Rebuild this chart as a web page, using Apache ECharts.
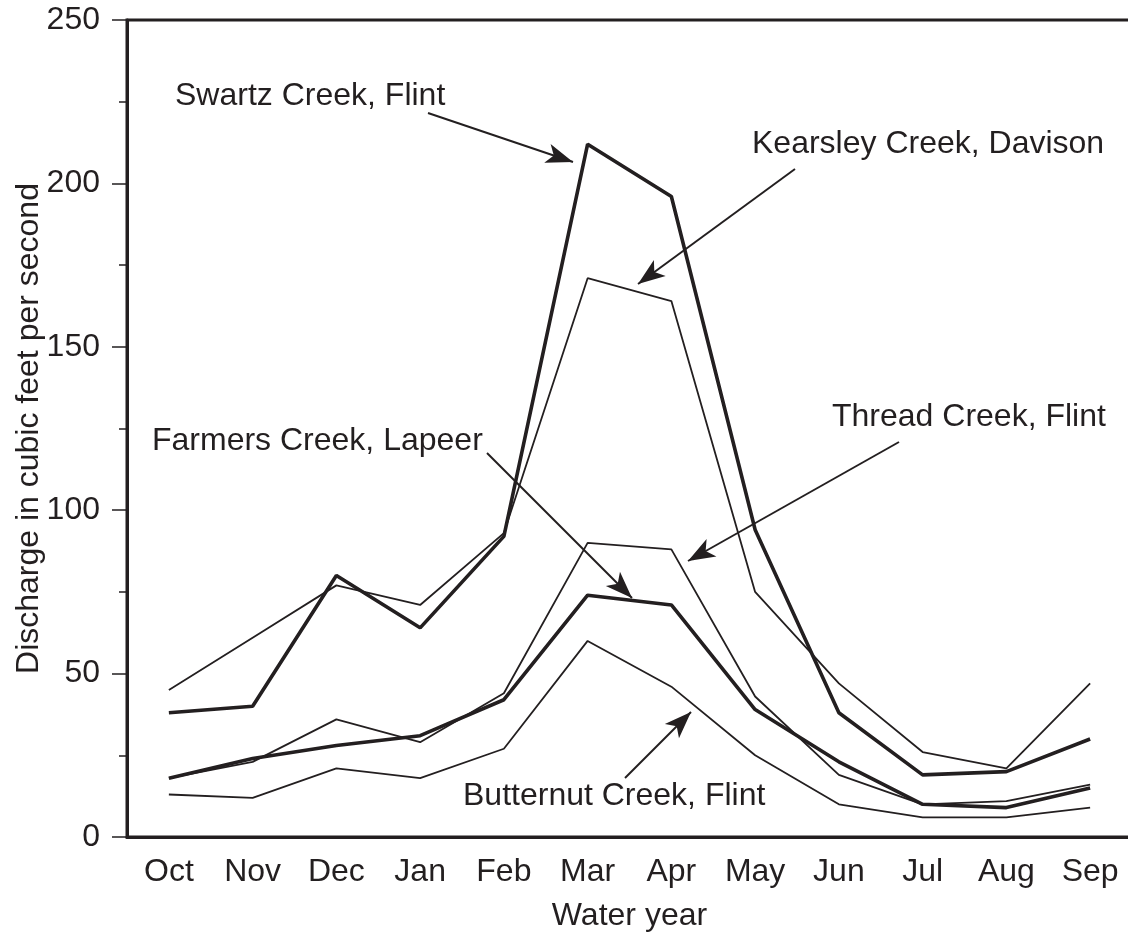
<!DOCTYPE html>
<html>
<head>
<meta charset="utf-8">
<script src="https://cdn.jsdelivr.net/npm/echarts@6/dist/echarts.min.js"></script>
<style>
  html, body { margin: 0; padding: 0; background: #fff; }
  #chart { width: 1128px; height: 946px; }
</style>
</head>
<body>
<div id="chart"></div>
<script>
  // months of the water year
  var months = ["Oct", "Nov", "Dec", "Jan", "Feb", "Mar", "Apr", "May", "Jun", "Jul", "Aug", "Sep"];
  // mean monthly discharge, cubic feet per second
  var swartz = [38, 40, 80, 64, 92, 212, 196, 94, 38, 19, 20, 30];
  var kearsley = [45, 61, 77, 71, 93, 171, 164, 75, 47, 26, 21, 47];
  var thread = [18, 23, 36, 29, 44, 90, 88, 43, 19, 10, 11, 16];
  var farmers = [18, 24, 28, 31, 42, 74, 71, 39, 23, 10, 9, 15];
  var butternut = [13, 12, 21, 18, 27, 60, 46, 25, 10, 6, 6, 9];

  var ink = "#231f20";
  var font = "Liberation Sans";
  var size = 32;

  var chart = echarts.init(document.getElementById("chart"));

  function line(name, data, width) {
    return {
      name: name,
      type: "line",
      data: data,
      symbol: "none",
      silent: true,
      lineStyle: { color: ink, width: width },
      z: width > 2 ? 3 : 2
    };
  }

  // label text, placed by hand like the original figure
  function note(text, x, y) {
    return {
      type: "text",
      left: x,
      top: y,
      style: { text: text, fill: ink, font: size + "px " + font }
    };
  }

  // arrows from the labels toward the curves
  var arrows = [
    [{ x: 428, y: 113 }, { x: 573, y: 162 }],
    [{ x: 795, y: 169 }, { x: 638, y: 284 }],
    [{ x: 487, y: 453 }, { x: 632, y: 598 }],
    [{ x: 899, y: 442 }, { x: 688, y: 561 }],
    [{ x: 625, y: 778 }, { x: 691, y: 712 }]
  ];

  var series = [
    line("Kearsley Creek, Davison", kearsley, 1.8),
    line("Thread Creek, Flint", thread, 1.8),
    line("Butternut Creek, Flint", butternut, 1.8),
    line("Farmers Creek, Lapeer", farmers, 3.6),
    line("Swartz Creek, Flint", swartz, 3.6)
  ];
  series[0].markLine = {
    silent: true,
    symbol: ["none", "arrow"],
    symbolSize: [15, 27],
    label: { show: false },
    lineStyle: { color: ink, width: 2, type: "solid" },
    data: arrows
  };

  var option = {
    backgroundColor: "#fff",
    animation: false,
    grid: {
      left: 127,
      top: 20,
      right: -4,
      bottom: 109,
      outerBoundsMode: "none",
      show: true,
      borderColor: ink,
      borderWidth: 3
    },
    xAxis: {
      type: "category",
      data: months,
      name: "Water year",
      nameLocation: "middle",
      nameGap: 63,
      nameTextStyle: { color: ink, fontSize: size, fontFamily: font },
      axisLine: { lineStyle: { color: ink, width: 3 } },
      axisTick: { alignWithLabel: true, length: 15, lineStyle: { color: ink, width: 1.5 } },
      axisLabel: { color: ink, fontSize: size, fontFamily: font, margin: 19 },
      splitLine: { show: false }
    },
    yAxis: {
      type: "value",
      min: 0,
      max: 250,
      interval: 50,
      name: "Discharge in cubic feet per second",
      nameLocation: "middle",
      nameGap: 82,
      nameMoveOverlap: false,
      nameTextStyle: { color: ink, fontSize: size, fontFamily: font },
      axisLine: { show: true, lineStyle: { color: ink, width: 3 } },
      axisTick: { show: true, length: 15, lineStyle: { color: ink, width: 1.5 } },
      minorTick: { show: true, splitNumber: 2, length: 8, lineStyle: { color: ink, width: 1.5 } },
      axisLabel: { color: ink, fontSize: size, fontFamily: font, margin: 27 },
      splitLine: { show: false }
    },
    graphic: [
      note("Swartz Creek, Flint", 175, 80),
      note("Kearsley Creek, Davison", 752, 128),
      note("Thread Creek, Flint", 832, 401),
      note("Farmers Creek, Lapeer", 152, 425),
      note("Butternut Creek, Flint", 463, 780)
    ],
    series: series
  };

  chart.setOption(option);
  window.addEventListener("resize", function () {
    chart.resize();
  });
</script>
</body>
</html>
